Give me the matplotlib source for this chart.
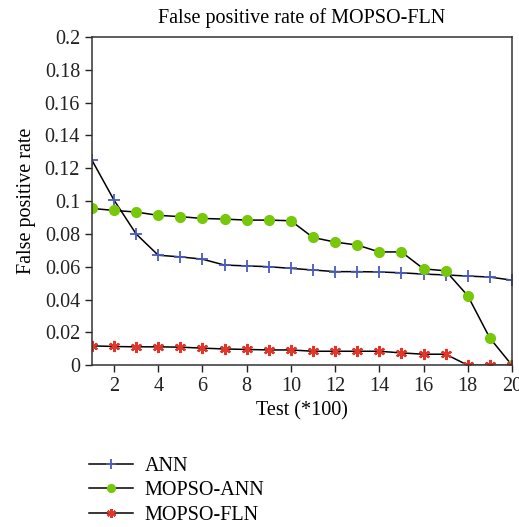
import matplotlib

matplotlib.use("Agg")
import matplotlib.pyplot as plt
import numpy as np
from matplotlib.ticker import FuncFormatter

plt.rcParams["font.family"] = ["Liberation Serif", "DejaVu Serif"]

tests = list(range(1, 21))
ann = [0.125, 0.1006, 0.080, 0.067, 0.066, 0.0646, 0.061, 0.0605, 0.060, 0.059,
       0.058, 0.057, 0.057, 0.0568, 0.0563, 0.0555, 0.055, 0.0543, 0.0537, 0.0518]
mopso_ann = [0.0955, 0.0943, 0.0933, 0.0913, 0.0905, 0.0894, 0.089, 0.0884, 0.0884, 0.088,
             0.0778, 0.075, 0.0732, 0.069, 0.069, 0.0587, 0.0575, 0.0423, 0.0165, 0.0]
mopso_fln = [0.0118, 0.0114, 0.0112, 0.0112, 0.011, 0.0104, 0.0099, 0.0096, 0.0093, 0.0093,
             0.0085, 0.0085, 0.0085, 0.0085, 0.0075, 0.0067, 0.0067, 0.0, 0.0, 0.0]

xticks = list(range(2, 21, 2))
yticks = np.round(np.arange(0, 0.2001, 0.02), 2)

fig = plt.figure(figsize=(5.19, 5.27), dpi=100)
ax = fig.add_axes([0.177, 0.307, 0.8095, 0.623])

ax.plot(tests, ann, color="black", lw=1.1, marker="+", ms=9, mew=1.3,
        mec="#4a5bbd", label="ANN")
ax.plot(tests, mopso_ann, color="black", lw=1.1, marker="o", ms=7,
        mfc="#77c70a", mec="#77c70a", label="MOPSO-ANN")
ax.plot(tests, mopso_fln, color="black", lw=1.1, marker=(6, 2, 0), ms=8, mew=1.6,
        mec="#e2362a", label="MOPSO-FLN")

ax.set_xlim(1, 20)
ax.set_ylim(0, 0.2)
ax.set_xticks(xticks)
ax.set_yticks(yticks)
ax.yaxis.set_major_formatter(FuncFormatter(lambda v, p: "%g" % round(v, 2)))
ax.tick_params(direction="out", length=5, width=1, labelsize=14.5, colors="#222222")
for s in ax.spines.values():
    s.set_linewidth(1.1)
    s.set_color("#333333")

ax.set_title("False positive rate of MOPSO-FLN", fontsize=14.5, pad=10)
ax.set_xlabel("Test (*100)", fontsize=14.5, labelpad=4)
ax.set_ylabel("False positive rate", fontsize=14.5, labelpad=6)

fig.legend(loc="upper left", bbox_to_anchor=(0.155, 0.149), frameon=False,
           fontsize=14.5, handlelength=2.2, handletextpad=0.6, labelspacing=0.27,
           borderaxespad=0, markerscale=0.8)

fig.savefig("out.png", dpi=100)
